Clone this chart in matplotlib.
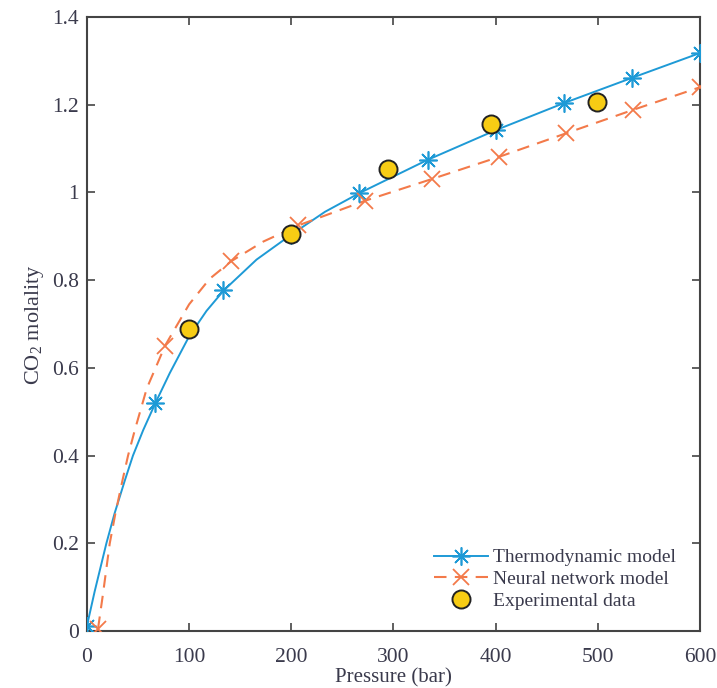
import numpy as np
import matplotlib
matplotlib.use("Agg")
import matplotlib.pyplot as plt

# Thermodynamic model: curve
thermo_p = [0, 7.5, 19, 27, 37, 45, 55, 67, 81, 100, 117, 134, 166, 200, 233, 267, 333, 400, 467, 533, 600]
thermo_m = [0.012, 0.090, 0.200, 0.268, 0.343, 0.400, 0.458, 0.520, 0.588, 0.672, 0.730, 0.777, 0.847,
            0.904, 0.956, 0.999, 1.074, 1.142, 1.204, 1.261, 1.318]
# Thermodynamic model markers
thermo_mark_p = [0, 66.7, 133.3, 200, 266.7, 333.3, 400, 466.7, 533.3, 600]
thermo_mark_m = [0.012, 0.520, 0.777, 0.904, 0.999, 1.074, 1.142, 1.204, 1.261, 1.318]

# Neural network model: dashed curve
nn_p = [10.8, 15.7, 22.3, 27.8, 34.7, 40.2, 46.8, 58.5, 76.5, 100, 120, 141, 172.5, 207, 272, 338, 403,
        469, 534, 600]
nn_m = [0.005, 0.085, 0.200, 0.268, 0.343, 0.400, 0.458, 0.553, 0.651, 0.745, 0.803, 0.843, 0.888,
        0.925, 0.981, 1.031, 1.081, 1.135, 1.188, 1.240]
# Neural network model markers
nn_mark_p = [10.8, 76.5, 141, 207, 272, 338, 403, 469, 534, 600]
nn_mark_m = [0.005, 0.651, 0.843, 0.925, 0.981, 1.031, 1.081, 1.135, 1.188, 1.240]

# Experimental data
exp_p = [100, 200, 295, 395, 499]
exp_m = [0.689, 0.905, 1.053, 1.156, 1.206]

blue = "#1e9ad6"
orange = "#f37a4a"
yellow = "#f7cc14"
txt = "#3a3a4c"

plt.rcParams['font.family'] = ['Liberation Serif', 'DejaVu Serif']
plt.rcParams['mathtext.fontset'] = 'custom'
plt.rcParams['mathtext.rm'] = 'Liberation Serif'
plt.rcParams['mathtext.it'] = 'Liberation Serif:italic'

fig = plt.figure(figsize=(7.17, 6.88), dpi=100)
ax = fig.add_axes([0.1213, 0.0828, 0.855, 0.8924])

star = (8, 2, 0)
ax.plot(thermo_p, thermo_m, color=blue, lw=1.4, zorder=2)
ax.plot(thermo_mark_p, thermo_mark_m, ls='none', marker=star, ms=13, mew=1.2,
        color=blue, zorder=3)
ax.plot(nn_p, nn_m, color=orange, lw=1.5, ls=(0, (6, 4)), zorder=2)
ax.plot(nn_mark_p, nn_mark_m, ls='none', marker='x', ms=11, mew=1.3, color=orange, zorder=3)
ax.plot(exp_p, exp_m, ls='none', marker='o', ms=13, mfc=yellow, mec='#222222', mew=1.4, zorder=4)

# legend proxies
h1, = ax.plot([], [], color=blue, lw=1.4, marker=star, ms=13, mew=1.2)
h2, = ax.plot([], [], color=orange, lw=1.5, ls=(0, (6, 4)), marker='x', ms=11, mew=1.3)
h3, = ax.plot([], [], ls='none', marker='o', ms=13, mfc=yellow, mec='#222222', mew=1.4)
leg = ax.legend([h1, h2, h3], ['Thermodynamic model', 'Neural network model', 'Experimental data'],
                loc='lower right', bbox_to_anchor=(0.98, 0.015), frameon=False, fontsize=14,
                handlelength=2.8, handletextpad=0.25, labelspacing=0.22, borderaxespad=0.2)
for t in leg.get_texts():
    t.set_color(txt)

ax.set_xlim(0, 600)
ax.set_ylim(0, 1.4)
ax.set_xticks(np.arange(0, 601, 100))
ax.set_yticks([0, 0.2, 0.4, 0.6, 0.8, 1.0, 1.2, 1.4])
ax.set_yticklabels(['0', '0.2', '0.4', '0.6', '0.8', '1', '1.2', '1.4'])
ax.tick_params(direction='in', top=True, right=True, length=6, width=1.2,
               labelsize=15.5, colors='#444444', labelcolor=txt, pad=6)
ax.tick_params(axis='x', pad=12)
for s in ax.spines.values():
    s.set_linewidth(1.5)
    s.set_color('#444444')

ax.set_xlabel('Pressure (bar)', fontsize=15, color=txt, labelpad=1)
ax.set_ylabel('CO$_2$ molality', fontsize=16, color=txt, labelpad=4)

fig.savefig('out.png', dpi=100)
